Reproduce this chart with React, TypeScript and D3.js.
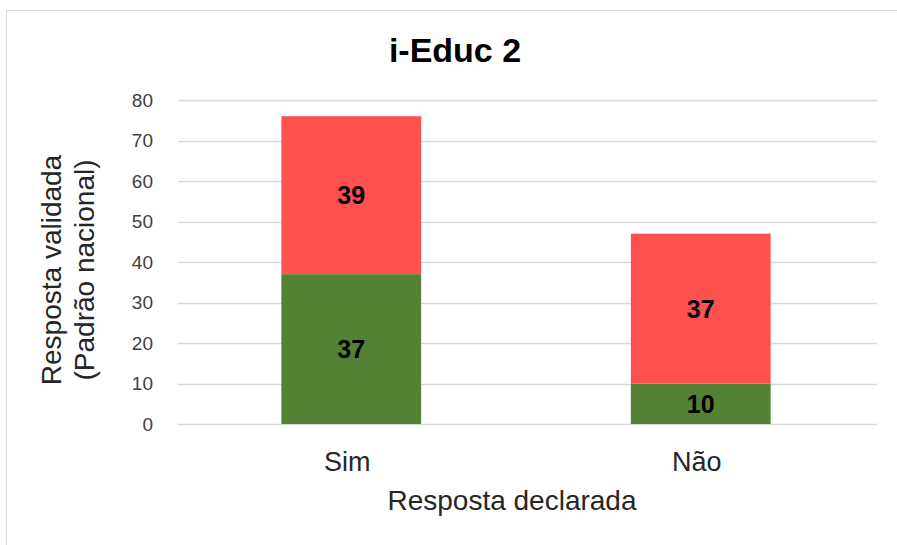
import React from "react";
import * as d3 from "d3";

const categories = ["Sim", "Não"];
const validadaSim = [37, 10]; // green (bottom)
const validadaNao = [39, 37]; // red (top)
const yTicks = [0, 10, 20, 30, 40, 50, 60, 70, 80];
const seriesColors = ["#548235", "#FF5050"];

const W = 897;
const H = 545;
const FONT = "'Liberation Sans', Arial, sans-serif";

export default function App() {
  const y = d3.scaleLinear().domain([0, 80]).range([424, 100]);
  const x = d3
    .scaleBand<string>()
    .domain(categories)
    .range([176.5, 875.5])
    .paddingInner(0.6)
    .paddingOuter(0.3);

  const rows = categories.map((c, i) => ({ cat: c, sim: validadaSim[i], nao: validadaNao[i] }));
  const stack = d3.stack<any>().keys(["sim", "nao"])(rows);

  return (
    <svg
      width={W}
      height={H}
      style={{ position: "absolute", left: 0, top: 0, background: "#fff" }}
      fontFamily={FONT}
    >
      <rect x={6.5} y={10.5} width={W} height={H} fill="#fff" stroke="#d9d9d9" strokeWidth={1} />
      <text x={455} y={62} textAnchor="middle" fontSize={34} fontWeight="bold" fill="#000">
        i-Educ 2
      </text>
      {yTicks.map((t) => (
        <g key={t}>
          <line x1={178} x2={877} y1={Math.round(y(t)) + 0.5} y2={Math.round(y(t)) + 0.5} stroke="#d9d9d9" strokeWidth={1.5} />
          <text x={153} y={y(t)} dy="0.35em" textAnchor="end" fontSize={19} fill="#404040">
            {t}
          </text>
        </g>
      ))}
      {stack.map((s, si) =>
        s.map((d, i) => {
          const x0 = x(categories[i])!;
          const y0 = y(d[1]);
          const y1 = y(d[0]);
          return (
            <g key={`${si}-${i}`}>
              <rect x={x0} y={y0} width={x.bandwidth()} height={y1 - y0} fill={seriesColors[si]} />
              <text
                x={x0 + x.bandwidth() / 2}
                y={(y0 + y1) / 2}
                dy="0.36em"
                textAnchor="middle"
                fontSize={25}
                fontWeight="bold"
                fill="#000"
              >
                {d[1] - d[0]}
              </text>
            </g>
          );
        })
      )}
      {categories.map((c) => (
        <text key={c} x={x(c)! + x.bandwidth() / 2 - 4} y={471} textAnchor="middle" fontSize={27} fill="#262626">
          {c}
        </text>
      ))}
      <text x={512} y={510} textAnchor="middle" fontSize={28} fill="#262626">
        Resposta declarada
      </text>
      <g transform="translate(61,270) rotate(-90)">
        <text x={0} y={0} textAnchor="middle" fontSize={28} fill="#262626">
          Resposta validada
        </text>
        <text x={0} y={33} textAnchor="middle" fontSize={28} fill="#262626">
          (Padrão nacional)
        </text>
      </g>
    </svg>
  );
}
